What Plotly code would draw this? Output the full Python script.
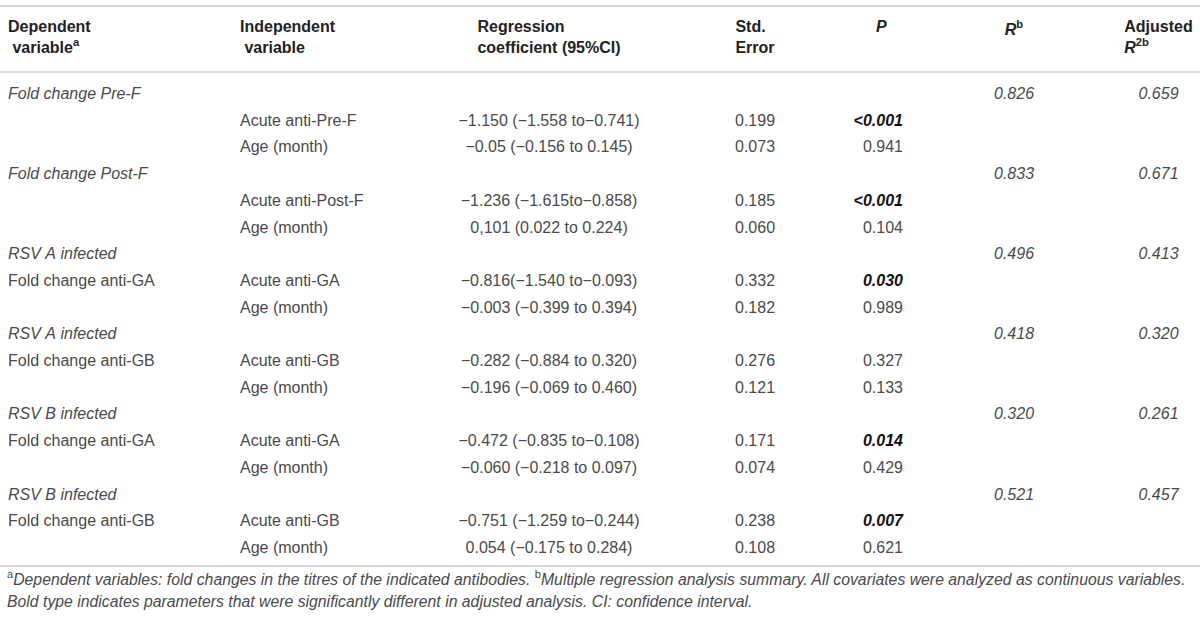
import plotly.graph_objects as go

# table data, one entry per model (6 models, 2 predictors each)
groups = ["Fold change Pre-F", "Fold change Post-F", "RSV A infected",
          "RSV A infected", "RSV B infected", "RSV B infected"]
outcomes = ["", "", "Fold change anti-GA", "Fold change anti-GB",
            "Fold change anti-GA", "Fold change anti-GB"]
predictors = ["Acute anti-Pre-F", "Acute anti-Post-F", "Acute anti-GA",
              "Acute anti-GB", "Acute anti-GA", "Acute anti-GB"]
age_label = "Age (month)"

coef_acute = ["−1.150 (−1.558 to−0.741)", "−1.236 (−1.615to−0.858)",
              "−0.816(−1.540 to−0.093)", "−0.282 (−0.884 to 0.320)",
              "−0.472 (−0.835 to−0.108)", "−0.751 (−1.259 to−0.244)"]
coef_age = ["−0.05 (−0.156 to 0.145)", "0,101 (0.022 to 0.224)",
            "−0.003 (−0.399 to 0.394)", "−0.196 (−0.069 to 0.460)",
            "−0.060 (−0.218 to 0.097)", "0.054 (−0.175 to 0.284)"]
se_acute = ["0.199", "0.185", "0.332", "0.276", "0.171", "0.238"]
se_age = ["0.073", "0.060", "0.182", "0.121", "0.074", "0.108"]
p_acute = ["<0.001", "<0.001", "0.030", "0.327", "0.014", "0.007"]
p_age = ["0.941", "0.104", "0.989", "0.133", "0.429", "0.621"]
r_b = ["0.826", "0.833", "0.496", "0.418", "0.320", "0.521"]
adj_r2 = ["0.659", "0.671", "0.413", "0.320", "0.261", "0.457"]

header = ["<b>Dependent<br> variable<sup>a</sup></b>",
          "<b>Independent<br> variable</b>",
          "<b>Regression<br>coefficient (95%CI)</b>",
          "<b>Std.<br>Error</b>",
          "<b><i>P</i></b>",
          "<b><i>R</i><sup>b</sup></b>",
          "<b>Adjusted<br><i>R</i><sup>2b</sup></b>"]

footnote1 = ("<sup>a</sup><i>Dependent variables: fold changes in the titres of the indicated antibodies. </i>"
             "<sup>b</sup><i>Multiple regression analysis summary. All covariates were analyzed as continuous variables.</i>")
footnote2 = "<i>Bold type indicates parameters that were significantly different in adjusted analysis. CI: confidence interval.</i>"

NB = "\u00a0"  # no plain spaces -> plotly keeps the row height fixed


def nb(s):
    return s.replace(" ", NB)


def is_sig(p):
    return float(p.lstrip("<")) < 0.05


# layers: upright cells, italic cells (group rows, R values, significant P),
# and the "<" P values which get the "<" through the column prefix
plain = [[] for _ in range(7)]
ital = [[] for _ in range(7)]
lt_rows = []
row = 0
for i in range(len(groups)):
    rows = [
        [groups[i], "", "", "", "", r_b[i], adj_r2[i]],
        [outcomes[i], predictors[i], coef_acute[i], se_acute[i], p_acute[i], "", ""],
        ["", age_label, coef_age[i], se_age[i], p_age[i], "", ""],
    ]
    for k, r in enumerate(rows):
        for c in range(7):
            txt = r[c]
            italic = (k == 0) or (c == 4 and txt != "" and is_sig(txt))
            if c == 4 and txt.startswith("<"):
                lt_rows.append((row, txt[1:]))
                txt = ""
            plain[c].append("" if italic else nb(txt))
            ital[c].append(nb(txt) if italic else "")
        row += 1

W, H = 1200, 621
top = 10
head_h = 69
row_h = 26.7
FONT = "Liberation Sans, Arial"
TXT = "#4a4a4a"
widths = [232, 208, 218, 194, 59, 206, 83]
cell_align = ["left", "left", "center", "center", "right", "center", "center"]
dom = dict(x=[0, 1], y=[0, 1 - top / H])
clear = "rgba(0,0,0,0)"
ital_font = dict(family=FONT, size=16, style="italic",
                 weight=["normal", "normal", "normal", "normal", "bold", "normal", "normal"],
                 color=[TXT, TXT, TXT, TXT, "#111111", TXT, TXT])

fig = go.Figure()
fig.add_trace(go.Table(
    columnwidth=widths,
    header=dict(values=header, height=head_h,
                align=["left", "left", "center", "center", "center", "center", "center"],
                font=dict(family=FONT, size=16, color="#222222"),
                fill=dict(color="white"), line=dict(color="white", width=0)),
    cells=dict(values=plain, height=row_h, align=cell_align,
               font=dict(family=FONT, size=16, color=TXT),
               fill=dict(color="white"), line=dict(color="white", width=0)),
    domain=dom,
))
fig.add_trace(go.Table(
    columnwidth=widths,
    header=dict(values=[""] * 7, height=head_h,
                fill=dict(color=clear), line=dict(color=clear, width=0)),
    cells=dict(values=ital, height=row_h, align=cell_align, font=ital_font,
               fill=dict(color=clear), line=dict(color=clear, width=0)),
    domain=dom,
))
# one single-cell layer per "<" value, pushed down to its row by the header height
for r, v in lt_rows:
    fig.add_trace(go.Table(
        columnwidth=widths,
        header=dict(values=[""] * 7, height=head_h + r * row_h,
                    fill=dict(color=clear), line=dict(color=clear, width=0)),
        cells=dict(values=[[""], [""], [""], [""], [v], [""], [""]], height=row_h,
                   align=cell_align, font=ital_font,
                   prefix=["", "", "", "", "<", "", ""],
                   fill=dict(color=clear), line=dict(color=clear, width=0)),
        domain=dom,
    ))

# horizontal rules
for py in [6, 72, 566]:
    fig.add_shape(type="line", xref="paper", yref="paper", x0=0, x1=1,
                  y0=1 - py / H, y1=1 - py / H, layer="above",
                  line=dict(color="#d9d9d9", width=2))

fig.add_annotation(text=footnote1, xref="paper", yref="paper", x=0.004, y=1 - 578 / H,
                   xanchor="left", yanchor="middle", showarrow=False,
                   font=dict(family=FONT, size=15.8, color=TXT))
fig.add_annotation(text=footnote2, xref="paper", yref="paper", x=0.004, y=1 - 601 / H,
                   xanchor="left", yanchor="middle", showarrow=False,
                   font=dict(family=FONT, size=15.8, color=TXT))

fig.update_layout(width=W, height=H, margin=dict(l=0, r=0, t=0, b=0),
                  paper_bgcolor="white", plot_bgcolor="white")
fig.write_html("out.html", config={"displayModeBar": False},
               post_script="document.body.style.margin='0px';")
